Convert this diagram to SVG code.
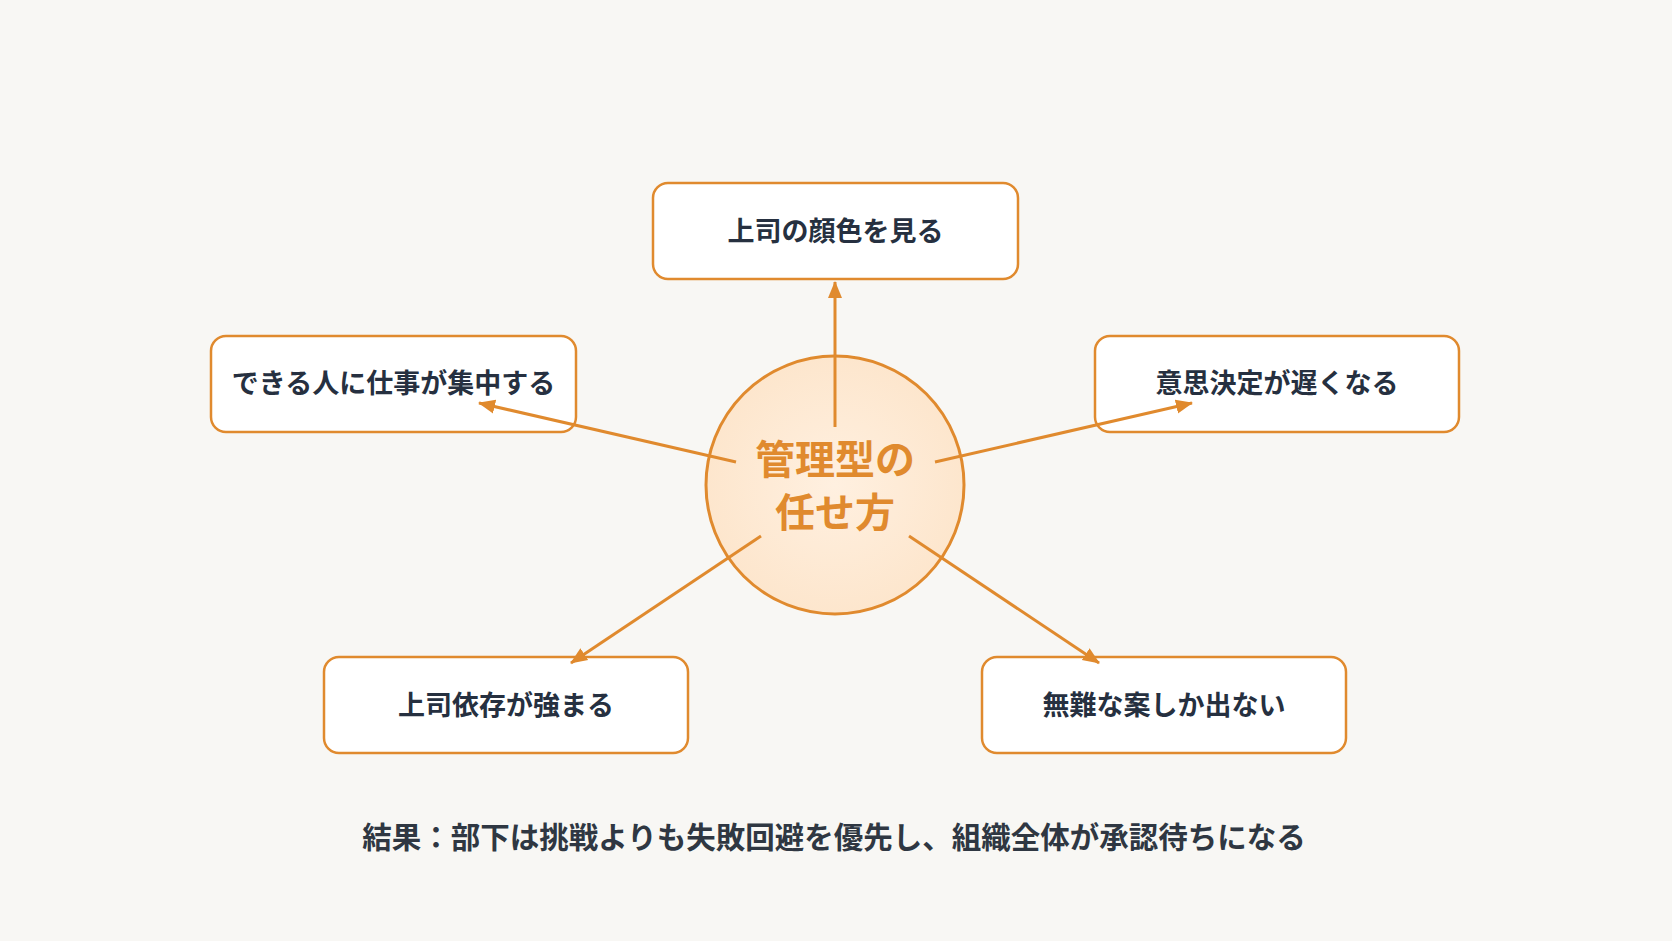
<svg xmlns="http://www.w3.org/2000/svg" width="1672" height="941" viewBox="0 0 1672 941">
<style>
.box{fill:#ffffff;stroke:#e08a2e;stroke-width:2.5}
.lbl{font-family:"Noto Sans CJK JP","Noto Sans",sans-serif;font-weight:700;font-size:27px;fill:#263040;text-anchor:middle;dominant-baseline:central}
.hub{font-family:"Noto Sans CJK JP","Noto Sans",sans-serif;font-weight:700;font-size:40px;fill:#e08a2e;text-anchor:middle;dominant-baseline:central}
.note{font-family:"Noto Sans CJK JP","Noto Sans",sans-serif;font-weight:700;font-size:29.5px;fill:#2f3742;text-anchor:middle;dominant-baseline:central}
.conn{stroke:#e08a2e;stroke-width:3;fill:none;marker-end:url(#ah)}
</style>
<defs>
<marker id="ah" markerUnits="userSpaceOnUse" markerWidth="18" markerHeight="16" refX="16" refY="8" orient="auto">
<path d="M0,1 L17,8 L0,15 Z" fill="#e08a2e"/>
</marker>
<radialGradient id="cg" cx="50%" cy="50%" r="50%">
<stop offset="0" stop-color="#fff0e0"/>
<stop offset="1" stop-color="#fde6cd"/>
</radialGradient>
</defs>
<rect width="1672" height="941" fill="#f8f7f4"/>
<g id="hub">
<circle cx="835" cy="485" r="129" fill="url(#cg)" stroke="#e08a2e" stroke-width="3"/>
<text class="hub" x="835" y="457">管理型の</text>
<text class="hub" x="835" y="510">任せ方</text>
</g>
<g id="node-top">
<rect class="box" x="653" y="183" width="365" height="96" rx="15"/>
<text class="lbl" x="835.5" y="229">上司の顔色を見る</text>
</g>
<g id="node-left">
<rect class="box" x="211" y="336" width="365" height="96" rx="15"/>
<text class="lbl" x="393.5" y="381">できる人に仕事が集中する</text>
</g>
<g id="node-right">
<rect class="box" x="1095" y="336" width="364" height="96" rx="15"/>
<text class="lbl" x="1277" y="381">意思決定が遅くなる</text>
</g>
<g id="node-bottom-left">
<rect class="box" x="324" y="657" width="364" height="96" rx="15"/>
<text class="lbl" x="506" y="703">上司依存が強まる</text>
</g>
<g id="node-bottom-right">
<rect class="box" x="982" y="657" width="364" height="96" rx="15"/>
<text class="lbl" x="1164" y="703">無難な案しか出ない</text>
</g>
<g id="connectors">
<line class="conn" x1="835" y1="427" x2="835" y2="282"/>
<line class="conn" x1="736" y1="462" x2="479" y2="403"/>
<line class="conn" x1="935" y1="462" x2="1192" y2="403"/>
<line class="conn" x1="761" y1="536" x2="571" y2="663"/>
<line class="conn" x1="909" y1="536" x2="1099" y2="663"/>
</g>
<g id="note">
<text class="note" x="834" y="835">結果：部下は挑戦よりも失敗回避を優先し、組織全体が承認待ちになる</text>
</g>
</svg>
